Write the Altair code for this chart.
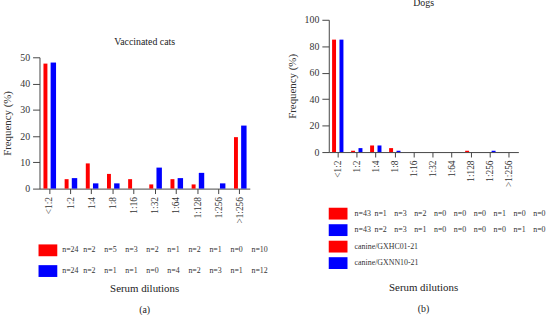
import altair as alt
import pandas as pd

dilutions = ["<1:2", "1:2", "1:4", "1:8", "1:16", "1:32", "1:64", "1:128", "1:256", ">1:256"]
cats_red = [47.6, 3.6, 9.6, 5.6, 3.6, 1.6, 3.6, 1.6, 0, 19.6]
cats_blue = [48, 4, 2, 2, 0, 8, 4, 6, 2, 24]
cats_n_red = [24, 2, 5, 3, 2, 1, 2, 1, 0, 10]
cats_n_blue = [24, 2, 1, 1, 0, 4, 2, 3, 1, 12]
dogs_red = [85, 1, 5, 3, 0, 0, 0, 1, 0, 0]
dogs_blue = [85, 3, 5, 1, 0, 0, 0, 0, 1, 0]
dogs_n_red = [43, 1, 3, 2, 0, 0, 0, 1, 0, 0]
dogs_n_blue = [43, 2, 3, 1, 0, 0, 0, 0, 1, 0]
dog_strains = ["canine/GXHC01-21", "canine/GXNN10-21"]

RED = "#ff0000"
BLUE = "#0000ff"
FONT = "Liberation Serif"
TXT = "#333333"


def bar_panel(title, red, blue, ymax, ystep, width, height, red_dx, red_w, blue_dx, blue_w, pi, po):
    df = pd.DataFrame({"dil": dilutions, "red": red, "blue": blue})
    xenc = alt.X("dil:N", sort=dilutions,
                 scale=alt.Scale(paddingInner=pi, paddingOuter=po),
                 axis=alt.Axis(title=None, labelAngle=270, labelFont=FONT, labelFontSize=9.5,
                               labelColor=TXT, tickSize=5, labelPadding=3, domainColor="#444",
                               tickColor="#444", labelOverlap=False))
    yaxis = alt.Axis(title="Frequency (%)", values=list(range(0, ymax + 1, ystep)), grid=False,
                     tickSize=7, labelPadding=3, labelFont=FONT, labelFontSize=10, labelColor=TXT,
                     titleFont=FONT, titleFontSize=11, titleFontWeight="normal", titleColor=TXT,
                     titlePadding=7, domainColor="#444", tickColor="#444")
    yscale = alt.Scale(domain=[0, ymax])
    base = alt.Chart(df)
    r = base.mark_bar(color=RED, width=red_w, xOffset=red_dx).encode(
        x=xenc, y=alt.Y("red:Q", scale=yscale, axis=yaxis))
    b = base.mark_bar(color=BLUE, width=blue_w, xOffset=blue_dx).encode(
        x=xenc, y=alt.Y("blue:Q", scale=yscale, axis=yaxis))
    return alt.layer(r, b).properties(width=width, height=height, title=title)


def table_panel(rows, xdomain, width, rowh, swatch_x, tparams):
    recs = []
    sw = []
    for ri, (color, texts) in enumerate(rows):
        sw.append({"row": ri, "c": swatch_x, "color": color})
        for ci, t in enumerate(texts):
            recs.append({"row": ri, "c": ci, "t": t})
    n = len(rows)
    xs = alt.Scale(domain=xdomain)
    ys = alt.Scale(domain=[-0.5, n - 0.5], reverse=True)
    txt = alt.Chart(pd.DataFrame(recs)).mark_text(
        align="left", baseline="middle", font=FONT, fontSize=8, color=TXT).encode(
        x=alt.X("c:Q", scale=xs, axis=None), y=alt.Y("row:Q", scale=ys, axis=None), text="t:N")
    sq = alt.Chart(pd.DataFrame(sw)).mark_point(
        shape="M-1,-0.63H1V0.63H-1Z", size=361, filled=True, opacity=1, strokeWidth=0).encode(
        x=alt.X("c:Q", scale=xs, axis=None), y=alt.Y("row:Q", scale=ys, axis=None),
        color=alt.Color("color:N", scale=None))
    return alt.layer(sq, txt).properties(width=width, height=n * rowh, title=tparams)


left_bars = bar_panel(
    alt.TitleParams(text="Vaccinated cats", font=FONT, fontSize=10,
                    fontWeight="normal", color="#222", offset=5),
    cats_red, cats_blue, 50, 10, 213, 133, -4, 4, 4, 5.5, 0.5, 0.2175)
right_bars = bar_panel(
    alt.TitleParams(text="Dogs", font=FONT, fontSize=10, fontWeight="normal", color="#222", offset=7),
    dogs_red, dogs_blue, 100, 20, 192, 134, -4, 4, 3.5, 4, 0.5, 0.235)

left_table = table_panel(
    [(RED, ["n=%d" % v for v in cats_n_red]), (BLUE, ["n=%d" % v for v in cats_n_blue])],
    [-1.08, 8.92], 213, 21, -0.68,
    alt.TitleParams(text="Serum dilutions", subtitle="(a)", orient="bottom", anchor="middle",
                    font=FONT, fontSize=11, fontWeight="normal", color="#222",
                    subtitleFont=FONT, subtitleFontSize=10, subtitleColor="#222",
                    subtitlePadding=11, offset=2))
right_table = table_panel(
    [(RED, ["n=%d" % v for v in dogs_n_red]), (BLUE, ["n=%d" % v for v in dogs_n_blue]),
     (RED, [dog_strains[0]]), (BLUE, [dog_strains[1]])],
    [-1.3, 8.25], 192, 16.7, -0.83,
    alt.TitleParams(text="Serum dilutions", subtitle="(b)", orient="bottom", anchor="middle",
                    font=FONT, fontSize=11, fontWeight="normal", color="#222",
                    subtitleFont=FONT, subtitleFontSize=10, subtitleColor="#222",
                    subtitlePadding=11, offset=11))

spacer = alt.Chart(pd.DataFrame({"v": [0]})).mark_point(opacity=0).encode(
    x=alt.value(0), y=alt.value(0)).properties(width=213, height=8)

left = alt.vconcat(spacer, alt.vconcat(left_bars, left_table, spacing=17), spacing=10)
right = alt.vconcat(right_bars, right_table, spacing=19)

chart = alt.hconcat(left, right, spacing=18).properties(
    padding={"left": 2, "top": -4, "right": 0, "bottom": 0},
    background="white",
).configure_view(strokeWidth=0)

chart.save("out.html", embed_options={"renderer": "svg", "actions": False})
